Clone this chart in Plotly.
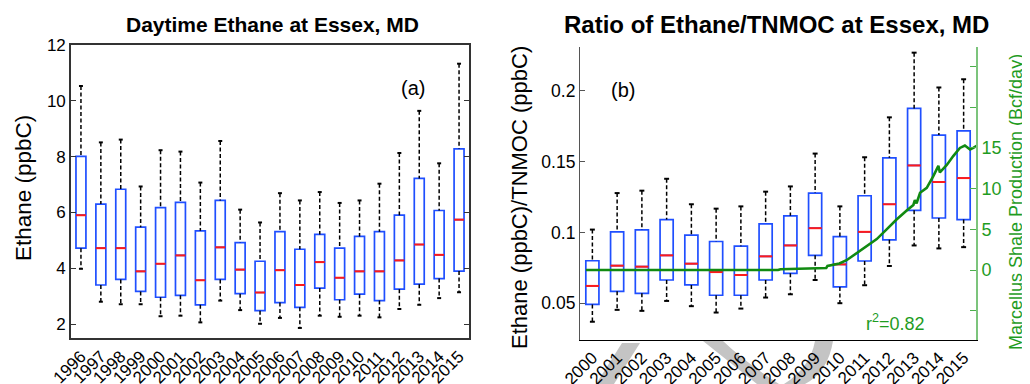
import plotly.graph_objects as go

# ---------------- data ----------------
years_a = list(range(1996, 2016))
a_hi  = [10.53, 8.51, 8.61, 6.93, 8.23, 8.18, 7.07, 8.56, 6.10, 5.64,
         6.69, 6.43, 6.73, 6.34, 6.43, 7.03, 8.13, 9.64, 7.76, 11.33]
a_q3  = [8.01, 6.30, 6.83, 5.47, 6.17, 6.36, 5.34, 6.43, 4.92, 4.25,
         5.31, 4.68, 5.21, 4.72, 5.14, 5.31, 5.90, 7.22, 6.07, 8.28]
a_med = [5.90, 4.72, 4.72, 3.89, 4.16, 4.46, 3.57, 4.75, 3.95, 3.13,
         3.93, 3.40, 4.22, 3.66, 3.89, 3.89, 4.28, 4.85, 4.48, 5.74]
a_q1  = [4.72, 3.40, 3.60, 3.17, 2.96, 3.03, 2.69, 3.60, 3.09, 2.48,
         2.77, 2.60, 3.29, 2.87, 3.07, 2.84, 3.25, 3.43, 3.63, 3.90]
a_lo  = [3.98, 2.80, 2.71, 2.71, 2.28, 2.30, 2.06, 2.84, 2.50, 2.01,
         2.22, 1.86, 2.30, 2.26, 2.30, 2.24, 2.54, 2.69, 2.93, 3.14]

years_b = list(range(2000, 2016))
b_hi  = [0.1020, 0.1278, 0.1295, 0.1379, 0.1199, 0.1168, 0.1184, 0.1288,
         0.1325, 0.1557, 0.1184, 0.1531, 0.1813, 0.2270, 0.2024, 0.2082]
b_q3  = [0.0800, 0.1004, 0.1018, 0.1091, 0.0981, 0.0936, 0.0903, 0.1060,
         0.1117, 0.1278, 0.0971, 0.1259, 0.1527, 0.1876, 0.1688, 0.1717]
b_med = [0.0622, 0.0765, 0.0758, 0.0838, 0.0779, 0.0720, 0.0699, 0.0831,
         0.0908, 0.1030, 0.0774, 0.1004, 0.1199, 0.1473, 0.1356, 0.1384]
b_q1  = [0.0491, 0.0584, 0.0570, 0.0664, 0.0629, 0.0556, 0.0556, 0.0664,
         0.0711, 0.0838, 0.0615, 0.0798, 0.0948, 0.1156, 0.1102, 0.1091]
b_lo  = [0.0369, 0.0453, 0.0446, 0.0516, 0.0479, 0.0434, 0.0462, 0.0540,
         0.0563, 0.0664, 0.0500, 0.0627, 0.0763, 0.0908, 0.0887, 0.0896]

# Marcellus shale production (Bcf/day) vs decimal year
prod_t = [1999.74, 2007.5, 2007.6, 2009.0, 2009.45, 2009.5, 2009.98, 2010.27,
          2010.68, 2011.08, 2011.49, 2011.89, 2012.29, 2012.70, 2012.97,
          2013.03, 2013.10, 2013.24, 2013.51, 2013.77, 2013.98, 2014.04,
          2014.32, 2014.58, 2014.85, 2015.05, 2015.26, 2015.39, 2015.55]
prod_v = [0.0, 0.0, 0.1, 0.2, 0.25, 0.5, 0.8, 1.2,
          2.1, 2.9, 3.8, 5.0, 6.2, 7.3, 8.0,
          8.6, 8.2, 9.5, 10.1, 11.5, 12.8, 12.0,
          12.9, 14.0, 15.0, 15.3, 14.8, 15.0, 15.3]

# ---------------- styling ----------------
FONT = "Arial, Liberation Sans, Helvetica, sans-serif"
BLUE = "#1f4fff"
RED = "#ff1a1a"
GREEN = "#118a11"
GREEN_TXT = "#1f9c1f"
OFF = 8                      # page body margin of the browser
W, H = 1030 - OFF, 384 - OFF
ML, MR, MT, MB = 63, 54, 37, 44
PW, PH = W - ML - MR, H - MT - MB


def px(x):
    """screen x (pixels) -> paper x"""
    return (x - OFF - ML) / PW


def py(y):
    """screen y (pixels) -> paper y"""
    return (H - MB - (y - OFF)) / PH


fig = go.Figure()


def add_boxes(pos, lo, q1, med, q3, hi, bw, xa, ya):
    wx, wy, cx, cy, mx, my = [], [], [], [], [], []
    cw = 0.1
    for p, l, a, m, b, h in zip(pos, lo, q1, med, q3, hi):
        wx += [p, p, None, p, p, None]
        wy += [h, b, None, a, l, None]
        cx += [p - cw, p + cw, None, p - cw, p + cw, None]
        cy += [h, h, None, l, l, None]
        mx += [p - bw / 2, p + bw / 2, None]
        my += [m, m, None]
    fig.add_trace(go.Scatter(x=wx, y=wy, mode="lines", xaxis=xa, yaxis=ya,
                             line=dict(color="black", width=1.5, dash="4px,2.5px"),
                             hoverinfo="skip", showlegend=False))
    fig.add_trace(go.Scatter(x=cx, y=cy, mode="lines", xaxis=xa, yaxis=ya,
                             line=dict(color="black", width=2),
                             hoverinfo="skip", showlegend=False))
    fig.add_trace(go.Box(x=pos, q1=q1, median=med, q3=q3, lowerfence=q1,
                         upperfence=q3, width=bw, whiskerwidth=0,
                         boxpoints=False, fillcolor="white",
                         line=dict(color=BLUE, width=1.7),
                         xaxis=xa, yaxis=ya, showlegend=False))
    fig.add_trace(go.Scatter(x=mx, y=my, mode="lines", xaxis=xa, yaxis=ya,
                             line=dict(color=RED, width=2),
                             hoverinfo="skip", showlegend=False))


pos_a = [y - years_a[0] for y in years_a]
pos_b = [y - years_b[0] for y in years_b]
add_boxes(pos_a, a_lo, a_q1, a_med, a_q3, a_hi, 0.5, "x", "y")
add_boxes(pos_b, b_lo, b_q1, b_med, b_q3, b_hi, 0.53, "x2", "y2")

fig.add_trace(go.Scatter(x=[t - years_b[0] for t in prod_t], y=prod_v,
                         mode="lines", xaxis="x2", yaxis="y3",
                         line=dict(color=GREEN, width=2.6),
                         hoverinfo="skip", showlegend=False))

left_dom = [0, px(469)]
right_dom = [px(580), 1]

fig.update_layout(
    width=W, height=H,
    margin=dict(l=ML, r=MR, t=MT, b=MB, autoexpand=False),
    paper_bgcolor="white", plot_bgcolor="white",
    font=dict(family=FONT, color="black", size=16),
    showlegend=False,
    xaxis=dict(domain=left_dom, anchor="y", range=[-0.5, len(years_a) - 0.5],
               tickmode="array", tickvals=pos_a, ticktext=[str(y) for y in years_a],
               tickangle=-45, tickfont=dict(size=17), ticks="", automargin=False,
               showline=True, linecolor="#333", linewidth=1.6, mirror=True,
               showgrid=False, zeroline=False),
    yaxis=dict(domain=[py(338), 1], anchor="x", range=[1.5, 12],
               tickvals=[2, 4, 6, 8, 10, 12], tickfont=dict(size=17),
               ticks="inside", ticklen=5, tickcolor="#333", mirror="ticks",
               showline=True, linecolor="#333", linewidth=1.6, automargin=False,
               showgrid=False, zeroline=False),
    xaxis2=dict(domain=right_dom, anchor="y2", range=[-0.5, len(years_b) - 0.5],
                tickmode="array", tickvals=pos_b, ticktext=[str(y) for y in years_b],
                tickangle=-45, tickfont=dict(size=17), ticks="", automargin=False,
                showline=True, linecolor="black", linewidth=1.4,
                showgrid=False, zeroline=False),
    yaxis2=dict(domain=[0, py(47)], anchor="x2", range=[0.024, 0.231],
                tickvals=[0.05, 0.1, 0.15, 0.2],
                ticktext=["0.05", "0.1", "0.15", "0.2"], tickfont=dict(size=17.5),
                ticks="inside", ticklen=5, tickcolor="#555", automargin=False,
                showline=True, linecolor="#555", linewidth=1.2,
                showgrid=False, zeroline=False),
    yaxis3=dict(overlaying="y2", side="right", anchor="x2", range=[-8.6, 27.4],
                tickmode="array", tickvals=[0, 5, 10, 15], automargin=False,
                tickfont=dict(size=18, color=GREEN_TXT),
                ticks="inside", ticklen=6, tickcolor="#4caf4c",
                minor=dict(tick0=0, dtick=5, ticks="inside", ticklen=6,
                           tickcolor="#4caf4c", showgrid=False),
                showline=True, linecolor="#7cc47c", linewidth=1.6,
                showgrid=False, zeroline=False),
)

ann = [
    dict(text="<b>Daytime Ethane at Essex, MD</b>", x=px(272), y=py(25),
         font=dict(size=21)),
    dict(text="<b>Ratio of Ethane/TNMOC at Essex, MD</b>", x=px(776), y=py(25),
         font=dict(size=24)),
    dict(text="Ethane (ppbC)", x=px(23), y=py(188), textangle=-90,
         font=dict(size=22.5)),
    dict(text="Ethane (ppbC)/TNMOC (ppbC)", x=px(519), y=py(198), textangle=-90,
         font=dict(size=22)),
    dict(text="Marcellus Shale Production (Bcf/day)", x=px(1016), y=py(202),
         textangle=-90, font=dict(size=18, color=GREEN_TXT)),
    dict(text="(a)", x=px(413), y=py(88), font=dict(size=20)),
    dict(text="(b)", x=px(623), y=py(90), font=dict(size=20)),
    dict(text="r<sup>2</sup>=0.82", x=px(895), y=py(322),
         font=dict(size=18, color=GREEN_TXT)),
]
for a in ann:
    a.update(xref="paper", yref="paper", showarrow=False,
             xanchor="center", yanchor="middle")
fig.update_layout(annotations=ann)

band1 = "M {} {} L {} {} L {} {} L {} {} Z".format(
    px(622), py(343), px(640), py(343), px(614), py(384), px(596), py(384))
bowl = ("M {} {} L {} {} Q {} {} {} {} L {} {} Q {} {} {} {} L {} {} "
        "Q {} {} {} {} L {} {} Z").format(
    px(703), py(341), px(723), py(341),
    px(745), py(362), px(779), py(384),
    px(784), py(384),
    px(810), py(368), px(815), py(341),
    px(833), py(341),
    px(828), py(372), px(805), py(384),
    px(757), py(384))
fig.update_layout(shapes=[
    dict(type="path", path=band1, xref="paper", yref="paper",
         fillcolor="#c4c4c4", line=dict(width=0), layer="below"),
    dict(type="path", path=bowl, xref="paper", yref="paper",
         fillcolor="#c4c4c4", line=dict(width=0), layer="below"),
])

fig.write_html("out.html")
